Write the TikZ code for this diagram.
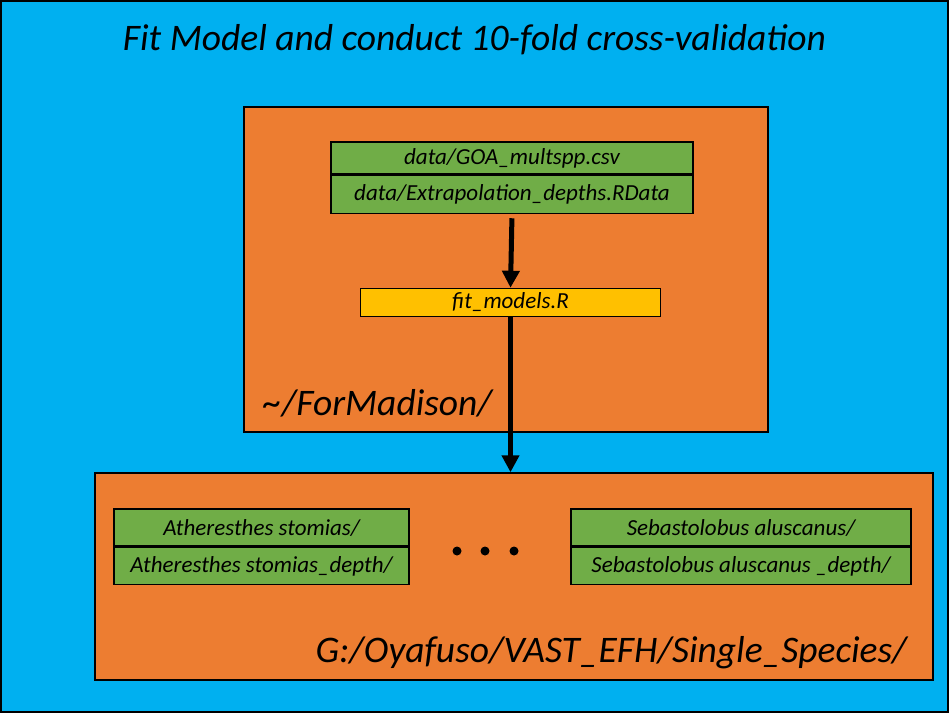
\documentclass[tikz,border=0pt]{standalone}
\usepackage{fontspec}
\setmainfont{Carlito}
\usetikzlibrary{arrows.meta}

\definecolor{pageblue}{RGB}{0,176,240}
\definecolor{folderorange}{RGB}{237,125,49}
\definecolor{filegreen}{RGB}{112,173,71}
\definecolor{scriptyellow}{RGB}{255,192,0}

\tikzstyle{page} = [draw=black,line width=2pt,fill=pageblue]
\tikzstyle{folder} = [draw=black,line width=1.5pt,fill=folderorange,inner sep=0pt]
\tikzstyle{datafile} = [draw=black,line width=1.5pt,fill=filegreen,inner sep=0pt,font=\itshape\fontsize{23}{27}\selectfont]
\tikzstyle{script} = [datafile,fill=scriptyellow]
\tikzstyle{path name} = [inner sep=0pt,font=\itshape\fontsize{37.5}{44}\selectfont]
\tikzstyle{heading} = [inner sep=0pt,font=\itshape\fontsize{37.5}{44}\selectfont]
\tikzstyle{flow} = [draw,line width=5pt,-{Triangle[width=17pt,length=17pt]}]

\begin{document}
\begin{tikzpicture}[x=1pt,y=-1pt]
\useasboundingbox (0,0) rectangle (949,713);
\draw[page] (1,1) rectangle (948,712);
\node[heading,anchor=base] (title) at (474.5,50) {Fit Model and conduct 10-fold cross-validation};

% folders
\node[folder,minimum width=524,minimum height=325] (home) at (506,269.5) {};
\node[folder,minimum width=838,minimum height=207] (species) at (514,576.5) {};
\node[path name,anchor=base west] (homename) at (263,415) {\textasciitilde/ForMadison/};
\node[path name,anchor=base east] (speciesname) at (907,662) {G:/Oyafuso/VAST\_EFH/Single\_Species/};

% input files and script
\node[datafile,minimum width=362,minimum height=32] (goa) at (512,158) {data/GOA\_multspp.csv};
\node[datafile,minimum width=362,minimum height=38,anchor=north] (extrap) at (goa.south) {data/Extrapolation\_depths.RData};
\node[script,minimum width=300,minimum height=28] (fit) at (510.5,302.5) {fit\_models.R};

% output folders
\node[datafile,minimum width=295,minimum height=37] (ath) at (261.5,527.5) {Atheresthes stomias/};
\node[datafile,minimum width=295,minimum height=37,anchor=north] (athdepth) at (ath.south) {Atheresthes stomias\_depth/};
\node[datafile,minimum width=340,minimum height=37] (seb) at (741,527.5) {Sebastolobus aluscanus/};
\node[datafile,minimum width=340,minimum height=37,anchor=north] (sebdepth) at (seb.south) {Sebastolobus aluscanus \_depth/};
\foreach \x in {457,485,514}
  \fill (\x,551) circle (4.5);

\path[flow,shorten <=4pt] (extrap.south) -- (fit.north);
\path[flow] (fit.south) -- (fit.south |- species.north);
\end{tikzpicture}
\end{document}
